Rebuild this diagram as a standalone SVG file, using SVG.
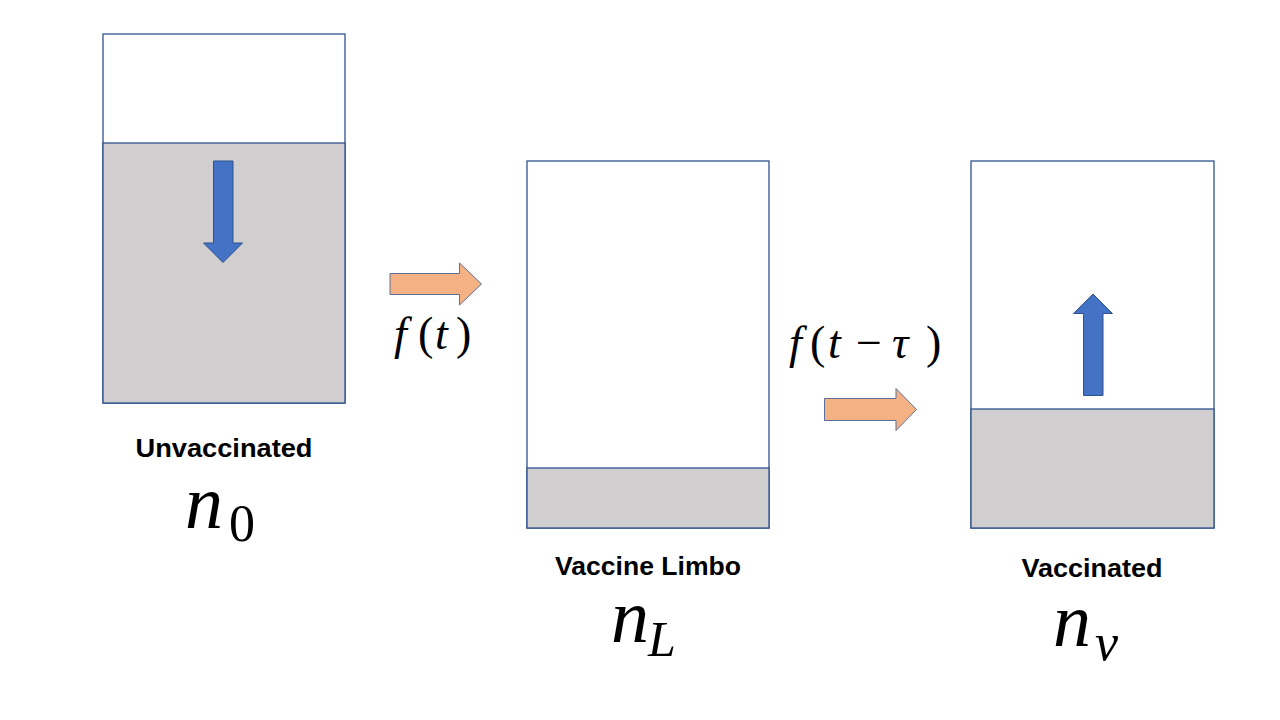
<svg xmlns="http://www.w3.org/2000/svg" width="1280" height="720" viewBox="0 0 1280 720">
<style>
.box{fill:#FFFFFF;stroke:#2F528F;stroke-width:1.3}
.lvl{fill:#D0CECE;stroke:#2F528F;stroke-width:1.3}
.blue{fill:#4472C4;stroke:#2F528F;stroke-width:1}
.orange{fill:#F4B183;stroke:#5B6F9A;stroke-width:1}
.lbl{font-family:"Liberation Sans",Arial,sans-serif;font-weight:bold;font-size:26px;fill:#000;text-anchor:middle}
.math{font-family:"Liberation Serif","Times New Roman",serif;font-style:italic;fill:#000}
.up{font-style:normal}
</style>
<rect width="1280" height="720" fill="#FFFFFF"/>
<g id="unvaccinated">
<rect class="box" x="103" y="34" width="242" height="369"/>
<rect class="lvl" x="103" y="143" width="242" height="260"/>
<polygon class="blue" points="213.5,161 233,161 233,243 242.5,243 223,262.5 203.5,243 213.5,243"/>
<text class="lbl" x="224" y="457" textLength="177" lengthAdjust="spacingAndGlyphs">Unvaccinated</text>
<text class="math" font-size="76" x="185" y="528">n</text>
<text class="math up" font-size="52" x="229" y="541">0</text>
</g>
<g id="limbo">
<rect class="box" x="527" y="161" width="242" height="367"/>
<rect class="lvl" x="527" y="468" width="242" height="60"/>
<text class="lbl" x="648" y="575" textLength="186" lengthAdjust="spacingAndGlyphs">Vaccine Limbo</text>
<text class="math" font-size="76" x="611" y="642">n</text>
<text class="math" font-size="50" x="648" y="656">L</text>
</g>
<g id="vaccinated">
<rect class="box" x="971" y="161" width="243" height="367"/>
<rect class="lvl" x="971" y="409" width="243" height="119"/>
<polygon class="blue" points="1083.5,395.5 1103,395.5 1103,313.5 1112.5,313.5 1093,294 1073.5,313.5 1083.5,313.5"/>
<text class="lbl" x="1092" y="577" textLength="141" lengthAdjust="spacingAndGlyphs">Vaccinated</text>
<text class="math" font-size="76" x="1053" y="646">n</text>
<text class="math" font-size="52" x="1095" y="660">v</text>
</g>
<g id="connectors">
<polygon class="orange" points="390,273.5 459.5,273.5 459.5,263 481.5,284 459.5,305 459.5,294.5 390,294.5"/>
<text class="math" font-size="46" y="349"><tspan x="394">f</tspan><tspan class="up" x="418">(</tspan><tspan x="435">t</tspan><tspan class="up" x="456">)</tspan></text>
<polygon class="orange" points="824.5,398.5 896,398.5 896,388.5 916.5,409.5 896,430.5 896,420.5 824.5,420.5"/>
<text class="math" font-size="46" y="358"><tspan x="789">f</tspan><tspan class="up" x="810">(</tspan><tspan x="828">t</tspan><tspan class="up" x="856">−</tspan><tspan x="892">τ</tspan><tspan class="up" x="926">)</tspan></text>
</g>
</svg>
